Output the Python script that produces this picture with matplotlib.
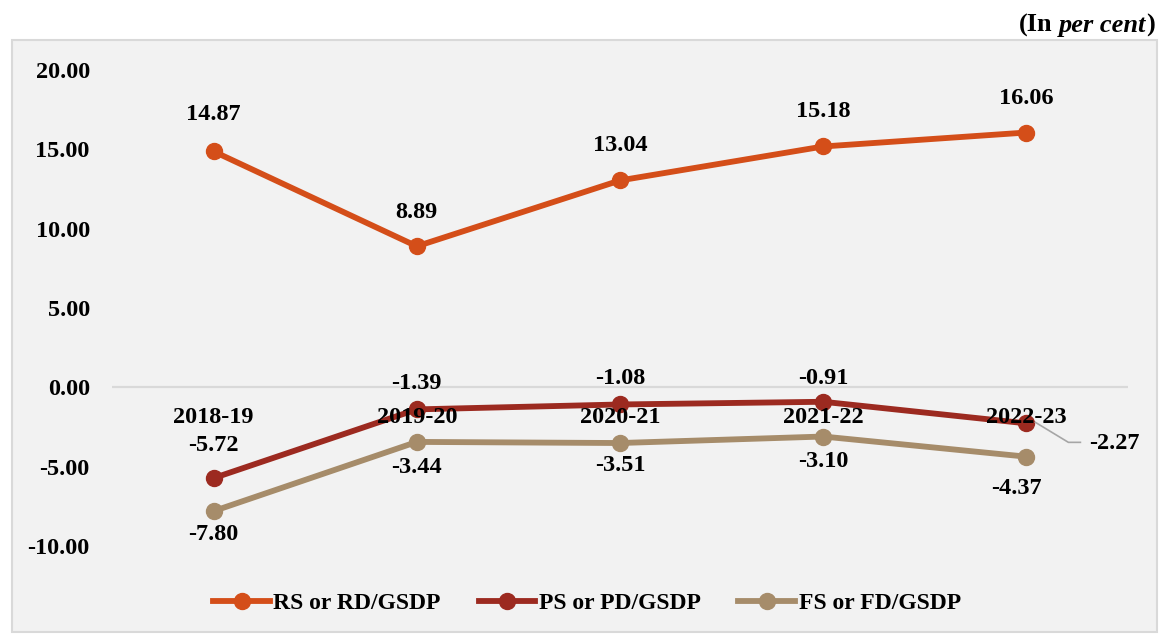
import matplotlib
matplotlib.use("Agg")
import matplotlib.pyplot as plt
from matplotlib.patches import Rectangle
from matplotlib.lines import Line2D

# ---- data ----
years = ["2018-19", "2019-20", "2020-21", "2021-22", "2022-23"]
rs_rd = [14.87, 8.89, 13.04, 15.18, 16.06]
ps_pd = [-5.72, -1.39, -1.08, -0.91, -2.27]
fs_fd = [-7.80, -3.44, -3.51, -3.10, -4.37]
series_names = ["RS or RD/GSDP", "PS or PD/GSDP", "FS or FD/GSDP"]
yticks = [-10, -5, 0, 5, 10, 15, 20]

W, H = 1161, 635
FONT = "Liberation Serif"
FS = 17.5

c_rs = "#d44e19"
c_ps = "#9c2a20"
c_fs = "#a68c6a"

fig = plt.figure(figsize=(W / 100, H / 100), dpi=100)
fig.patch.set_facecolor("white")

# outer chart box
fig.patches.append(Rectangle((12 / W, 1 - 632 / H), (1157 - 12) / W, (632 - 40) / H,
                             transform=fig.transFigure, facecolor="#f2f2f2",
                             edgecolor="#d9d9d9", linewidth=1.5, zorder=-5))

ax = fig.add_axes([112 / W, 1 - 546 / H, (1128 - 112) / W, 476 / H])
ax.set_zorder(1)
ax.set_facecolor("none")
x = list(range(len(years)))
ax.set_xlim(-0.5, len(years) - 0.5)
ax.set_ylim(-10, 20)
for s in ax.spines.values():
    s.set_visible(False)
ax.axhline(0, color="#d9d9d9", linewidth=1.6, zorder=1)
ax.set_xticks([])
ax.set_yticks(yticks)
ax.set_yticklabels(["%.2f" % v if v >= 0 else "-%.2f" % abs(v) for v in yticks],
                   fontfamily=FONT, fontweight="bold", fontsize=FS)
ax.tick_params(axis="y", length=0, pad=16)

lw, ms = 4.2, 11.5
ax.plot(x, rs_rd, color=c_rs, lw=lw, marker="o", ms=ms, zorder=2)
ax.plot(x, ps_pd, color=c_ps, lw=lw, marker="o", ms=ms, zorder=2)
ax.plot(x, fs_fd, color=c_fs, lw=lw, marker="o", ms=ms, zorder=2)

txtkw = dict(fontfamily=FONT, fontweight="bold", fontsize=FS, ha="center",
             va="center", textcoords="offset points", zorder=4)
px = 0.72  # points per pixel at dpi 100


def fmt(v):
    return "%.2f" % v if v >= 0 else "-%.2f" % abs(v)


# category labels just below the zero line
for i, yr in enumerate(years):
    ax.annotate(yr, (i, 0), xytext=(0, -30 * px), **txtkw)

rs_off = [37, 34, 35, 35, 34]
for i, v in enumerate(rs_rd):
    ax.annotate(fmt(v), (i, v), xytext=(0, rs_off[i] * px), **txtkw)

ps_off = [(0, 33), (0, 26), (0, 26), (0, 23), (88, -20)]
for i, v in enumerate(ps_pd):
    ax.annotate(fmt(v), (i, v), xytext=(ps_off[i][0] * px, ps_off[i][1] * px), **txtkw)

fs_off = [(0, -23), (0, -26), (0, -22), (0, -25), (-10, -32)]
for i, v in enumerate(fs_fd):
    ax.annotate(fmt(v), (i, v), xytext=(fs_off[i][0] * px, fs_off[i][1] * px), **txtkw)

# leader line for the last PS label (pixel offsets from the data point)
fig.canvas.draw()
r = fig.canvas.get_renderer()
p0 = ax.transData.transform((4, ps_pd[4]))
seg = [(9, 1), (42, -19), (54, -19)]
xs = [(p0[0] + dx) / W for dx, dy in seg]
ys = [(p0[1] + dy) / H for dx, dy in seg]
fig.add_artist(Line2D(xs, ys, transform=fig.transFigure, color="#a6a6a6", lw=1.2, zorder=3))

# legend
handles = [Line2D([0], [0], color=c, lw=lw, marker="o", ms=ms) for c in (c_rs, c_ps, c_fs)]
fig.legend(handles, series_names, loc="center", bbox_to_anchor=(587 / W, 1 - 603 / H),
           ncol=3, frameon=False, handlelength=2.4, handletextpad=0.15,
           columnspacing=1.6, prop=dict(family=FONT, weight="bold", size=17))

# "(In per cent)" with italic part
xr = 1155
yb = 1 - 32 / H
for s, style, gap in [(")", "normal", 0), ("per cent", "italic", 0), ("(In", "normal", 6)]:
    t = fig.text((xr - gap) / W, yb, s, ha="right", va="baseline", fontfamily=FONT,
                 fontweight="bold", fontstyle=style, fontsize=19)
    bb = t.get_window_extent(r)
    xr = bb.x0

fig.savefig("out.png", dpi=100, facecolor="white")
